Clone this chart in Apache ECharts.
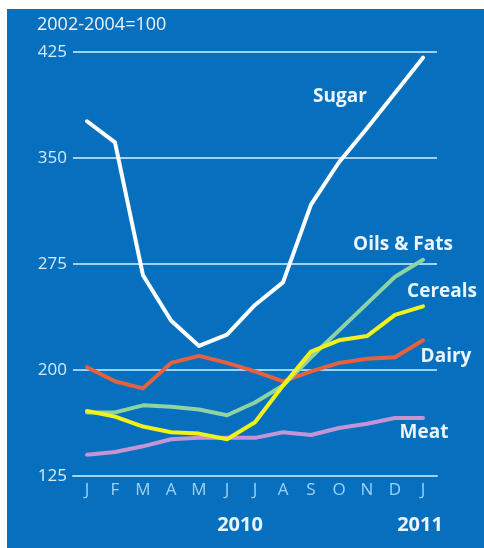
<!DOCTYPE html>
<html>
<head>
<meta charset="utf-8">
<script src="https://cdn.jsdelivr.net/npm/echarts@6/dist/echarts.min.js"></script>
<style>
  body { margin: 0; background: #ffffff; }
  #chart { position: absolute; left: 7px; top: 9px; width: 477px; height: 539px; background: #0670be; }
</style>
</head>
<body>
<div id="chart"></div>
<script>
// monthly index values, Jan 2010 - Jan 2011
const months = ['J', 'F', 'M', 'A', 'M', 'J', 'J', 'A', 'S', 'O', 'N', 'D', 'J'];
const sugar   = [376, 361, 267, 235, 217, 225, 246, 262, 317, 347, 371, 396, 421];
const oils    = [170, 170, 175, 174, 172, 168, 177, 189, 209, 228, 247, 266, 278];
const cereals = [171, 167, 160, 156, 155, 151, 163, 189, 213, 221, 224, 239, 245];
const dairy   = [202, 192, 187, 205, 210, 205, 199, 192, 199, 205, 208, 209, 221];
const meat    = [140, 142, 146, 151, 152, 152, 152, 156, 154, 159, 162, 166, 166];
const yearLabels = ['2010', '2011'];

const chart = echarts.init(document.getElementById('chart'));
const gridColor = '#9fd2f6';
const font = 'Open Sans';

function line(name, data, color) {
  return {
    name: name,
    type: 'line',
    data: data,
    symbol: 'none',
    lineStyle: { color: color, width: 4, cap: 'round', join: 'round' }
  };
}

// centred text label
function label(text, x, y, size, weight, align) {
  return {
    type: 'text',
    x: x, y: y,
    style: {
      text: text,
      fill: '#eaf5ff',
      font: weight + ' ' + size + 'px "' + font + '"',
      align: align || 'center',
      verticalAlign: 'middle'
    }
  };
}

const option = {
  animation: false,
  grid: { left: 66, top: 43, width: 364, height: 424 },
  xAxis: {
    type: 'category',
    data: months,
    boundaryGap: true,
    axisLine: { lineStyle: { color: gridColor, width: 2 } },
    axisTick: { alignWithLabel: true, inside: true, length: 8, lineStyle: { color: gridColor, width: 2 } },
    axisLabel: { color: '#9fd2f6', fontSize: 17, fontFamily: font, margin: 6 }
  },
  yAxis: {
    type: 'value',
    min: 125, max: 425, interval: 75,
    axisLine: { show: false },
    axisTick: { show: false },
    axisLabel: { color: '#d6ecfc', fontSize: 17, fontFamily: font, margin: 6 },
    splitLine: { lineStyle: { color: gridColor, width: 2 } }
  },
  graphic: [
    label('2002-2004=100', 30, 16, 18, 'normal', 'left'),
    label('Sugar', 333, 88, 19, 'bold'),
    label('Oils & Fats', 396, 236, 19, 'bold'),
    label('Cereals', 435, 283, 19, 'bold'),
    label('Dairy', 439, 348, 19, 'bold'),
    label('Meat', 417, 424, 19, 'bold'),
    label(yearLabels[0], 233, 516, 20, 'bold'),
    label(yearLabels[1], 413, 516, 20, 'bold')
  ],
  series: [
    line('Meat', meat, '#c494d6'),
    line('Dairy', dairy, '#e6613e'),
    line('Oils & Fats', oils, '#8ed3a2'),
    line('Cereals', cereals, '#f2f21a'),
    line('Sugar', sugar, '#ffffff')
  ]
};
chart.setOption(option);
</script>
</body>
</html>
